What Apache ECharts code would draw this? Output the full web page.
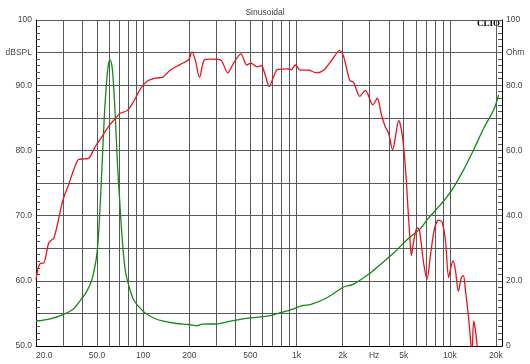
<!DOCTYPE html>
<html><head><meta charset="utf-8">
<script src="https://cdn.jsdelivr.net/npm/echarts@6/dist/echarts.min.js"></script>
<style>html,body{margin:0;padding:0;background:#fff}#c{width:530px;height:364px}</style>
</head><body><div id="c"></div>
<script>
// SPL response (dB SPL, left axis)
const splFreq = [20,20.8,21.7,22.4,24.2,25.4,26.1,27.4,29.6,31.1,32.6,35.2,37.9,40.9,44.1,48.7,53.9,59.5,65.8,70.9,78.5,86.7,95.8,106,120,133,150,175,198,208,219,233,251,274,319,356,389,434,474,505,553,590,617,665,709,750,872,926,983,1060,1195,1347,1503,1705,1912,2030,2222,2359,2589,2812,3148,3368,3577,3798,3991,4238,4413,4637,4880,5129,5390,5529,5613,5810,6114,6329,6751,7105,7467,7964,8457,8901,9353,9828,10082,10500,10870,11370,11894,12257,12632,13155,13616,13926,14308,14678,15058,15470];
const splDb = [60.2,62.2,62.7,62.7,65.8,66.3,66.5,68.3,71.9,73.5,74.7,77.0,78.6,78.7,78.8,80.6,82.1,83.7,84.9,85.7,86.1,87.5,89.4,90.6,91.1,91.2,92.3,93.2,93.9,95.1,93.8,91.2,93.9,94.0,93.9,91.9,93.4,94.8,93.1,93.4,92.8,93.0,92.0,89.8,91.3,92.4,92.5,92.4,93.1,92.3,92.3,91.9,92.3,93.9,95.3,94.4,90.8,90.4,88.3,89.2,87.0,88.0,85.5,83.6,82.6,80.1,82.0,84.6,82.6,77.5,69.4,65.5,63.9,66.0,68.1,67.8,62.7,60.2,63.8,68.1,69.3,69.0,66.3,60.5,61.7,63.1,61.7,58.4,60.5,60.8,58.7,55.1,51.3,48.5,53.8,52.5,50.0,46.0];
// Impedance (Ohm, right axis)
const impFreq = [20,24.8,30.0,35.2,40.1,41.9,45.2,47.3,50.0,52.0,53.9,55.8,58.1,59.7,61.1,62.5,63.6,65.8,68.1,70.2,72.8,76.5,81.2,86.7,99.8,117,136,166,198,225,243,303,370,500,675,785,958,1087,1231,1582,1932,2030,2359,3032,3523,4302,5261,6425,7105,8677,10343,12314,14308,16626,19320,20828];
const impOhm = [7.6,8.3,9.6,11.4,14.8,16.0,19.0,22.0,28.5,39.8,55.1,70.4,82.6,87.0,87.7,86.0,82.6,70.4,55.1,44.9,33.6,23.0,18.0,14.2,10.7,8.6,7.6,6.9,6.6,6.2,6.7,6.8,7.6,8.6,9.3,10.2,11.4,12.4,12.7,14.8,17.5,18.1,19.0,22.4,25.0,28.5,32.6,36.0,38.7,43.3,47.9,54.1,60.2,66.8,72.4,77.0];
// Axis ticks / labels
const xGridFreqs = [20,30,40,50,60,70,80,90,100,200,300,400,500,600,700,800,900,1000,2000,3000,4000,5000,6000,7000,8000,9000,10000,20000];
const xLabelFreqs = [20,50,100,200,500,1000,2000,3000,5000,10000,20000];
const xLabelTexts = ['20.0','50.0','100','200','500','1k','2k','Hz','5k','10k','20k'];
const leftTickValues = [100,95,90,80,70,60,50];
const leftTickTexts = ['100','dBSPL','90.0','80.0','70.0','60.0','50.0'];
const rightTickValues = [100,90,80,60,40,20,0];
const rightTickTexts = ['100','Ohm','80.0','60.0','40.0','20.0','0'];

const zip = (a, b) => a.map((v, i) => [v, b[i]]);
const fmtFrom = (vals, texts) => v => {
  for (let i = 0; i < vals.length; i++) if (Math.abs(v - vals[i]) < 1e-6 * Math.max(1, Math.abs(vals[i]))) return texts[i];
  return '';
};
const txt = '#444';
const gridCol = '#585858';
const chart = echarts.init(document.getElementById('c'), null, {renderer: 'canvas'});
chart.setOption({
  backgroundColor: '#fff',
  animation: false,
  title: {text: 'Sinusoidal', left: 'center', top: 3, textStyle: {fontSize: 8.5, fontWeight: 'normal', color: txt, fontFamily: 'Liberation Sans, Arial, sans-serif'}},
  grid: {left: 36, right: 28, top: 20, bottom: 18},
  xAxis: {
    type: 'log', logBase: 10, min: 20, max: 21900,
    axisLine: {show: true, lineStyle: {color: '#000', width: 1}},
    axisTick: {show: false, customValues: xGridFreqs},
    splitLine: {show: true, lineStyle: {color: gridCol, width: 1}},
    axisLabel: {
      customValues: xLabelFreqs, fontSize: 8.5, color: txt, margin: 5, fontFamily: 'Liberation Sans, Arial, sans-serif',
      alignMinLabel: 'left',
      formatter: v => { const t = fmtFrom(xLabelFreqs, xLabelTexts)(v); return t === 'Hz' ? '{hz|Hz}' : t; },
      rich: {hz: {padding: [0, 0, 0, 9], fontSize: 8.5, color: txt}}
    }
  },
  yAxis: [
    {
      type: 'value', min: 50, max: 100, interval: 5, position: 'left',
      axisLine: {show: true, lineStyle: {color: '#000'}},
      axisTick: {show: false, inside: true},
      minorTick: {show: true, splitNumber: 5, length: 4, lineStyle: {color: '#555'}},
      splitLine: {show: true, lineStyle: {color: gridCol, width: 1}},
      axisLabel: {fontSize: 8.5, color: txt, margin: 4, fontFamily: 'Liberation Sans, Arial, sans-serif', formatter: fmtFrom(leftTickValues, leftTickTexts)}
    },
    {
      type: 'value', min: 0, max: 100, interval: 10, position: 'right',
      axisLine: {show: true, lineStyle: {color: '#000'}},
      axisTick: {show: false, inside: true},
      minorTick: {show: true, splitNumber: 5, length: 4, lineStyle: {color: '#555'}},
      splitLine: {show: false},
      axisLabel: {fontSize: 8.5, color: txt, margin: 4, fontFamily: 'Liberation Sans, Arial, sans-serif', formatter: fmtFrom(rightTickValues, rightTickTexts)}
    }
  ],
  graphic: [{type: 'text', right: 30, top: 19, style: {text: 'CLIO', font: 'bold 9px "Liberation Serif", "DejaVu Serif", serif', fill: '#000'}}],
  series: [
    {type: 'line', name: 'Impedance', yAxisIndex: 1, data: zip(impFreq, impOhm), showSymbol: false, smooth: 0.3, clip: true, lineStyle: {color: '#128a12', width: 1.3}, z: 3},
    {type: 'line', name: 'SPL', yAxisIndex: 0, data: zip(splFreq, splDb), showSymbol: false, smooth: 0.3, clip: true, lineStyle: {color: '#e8141c', width: 1.3}, z: 4}
  ]
});
</script></body></html>
